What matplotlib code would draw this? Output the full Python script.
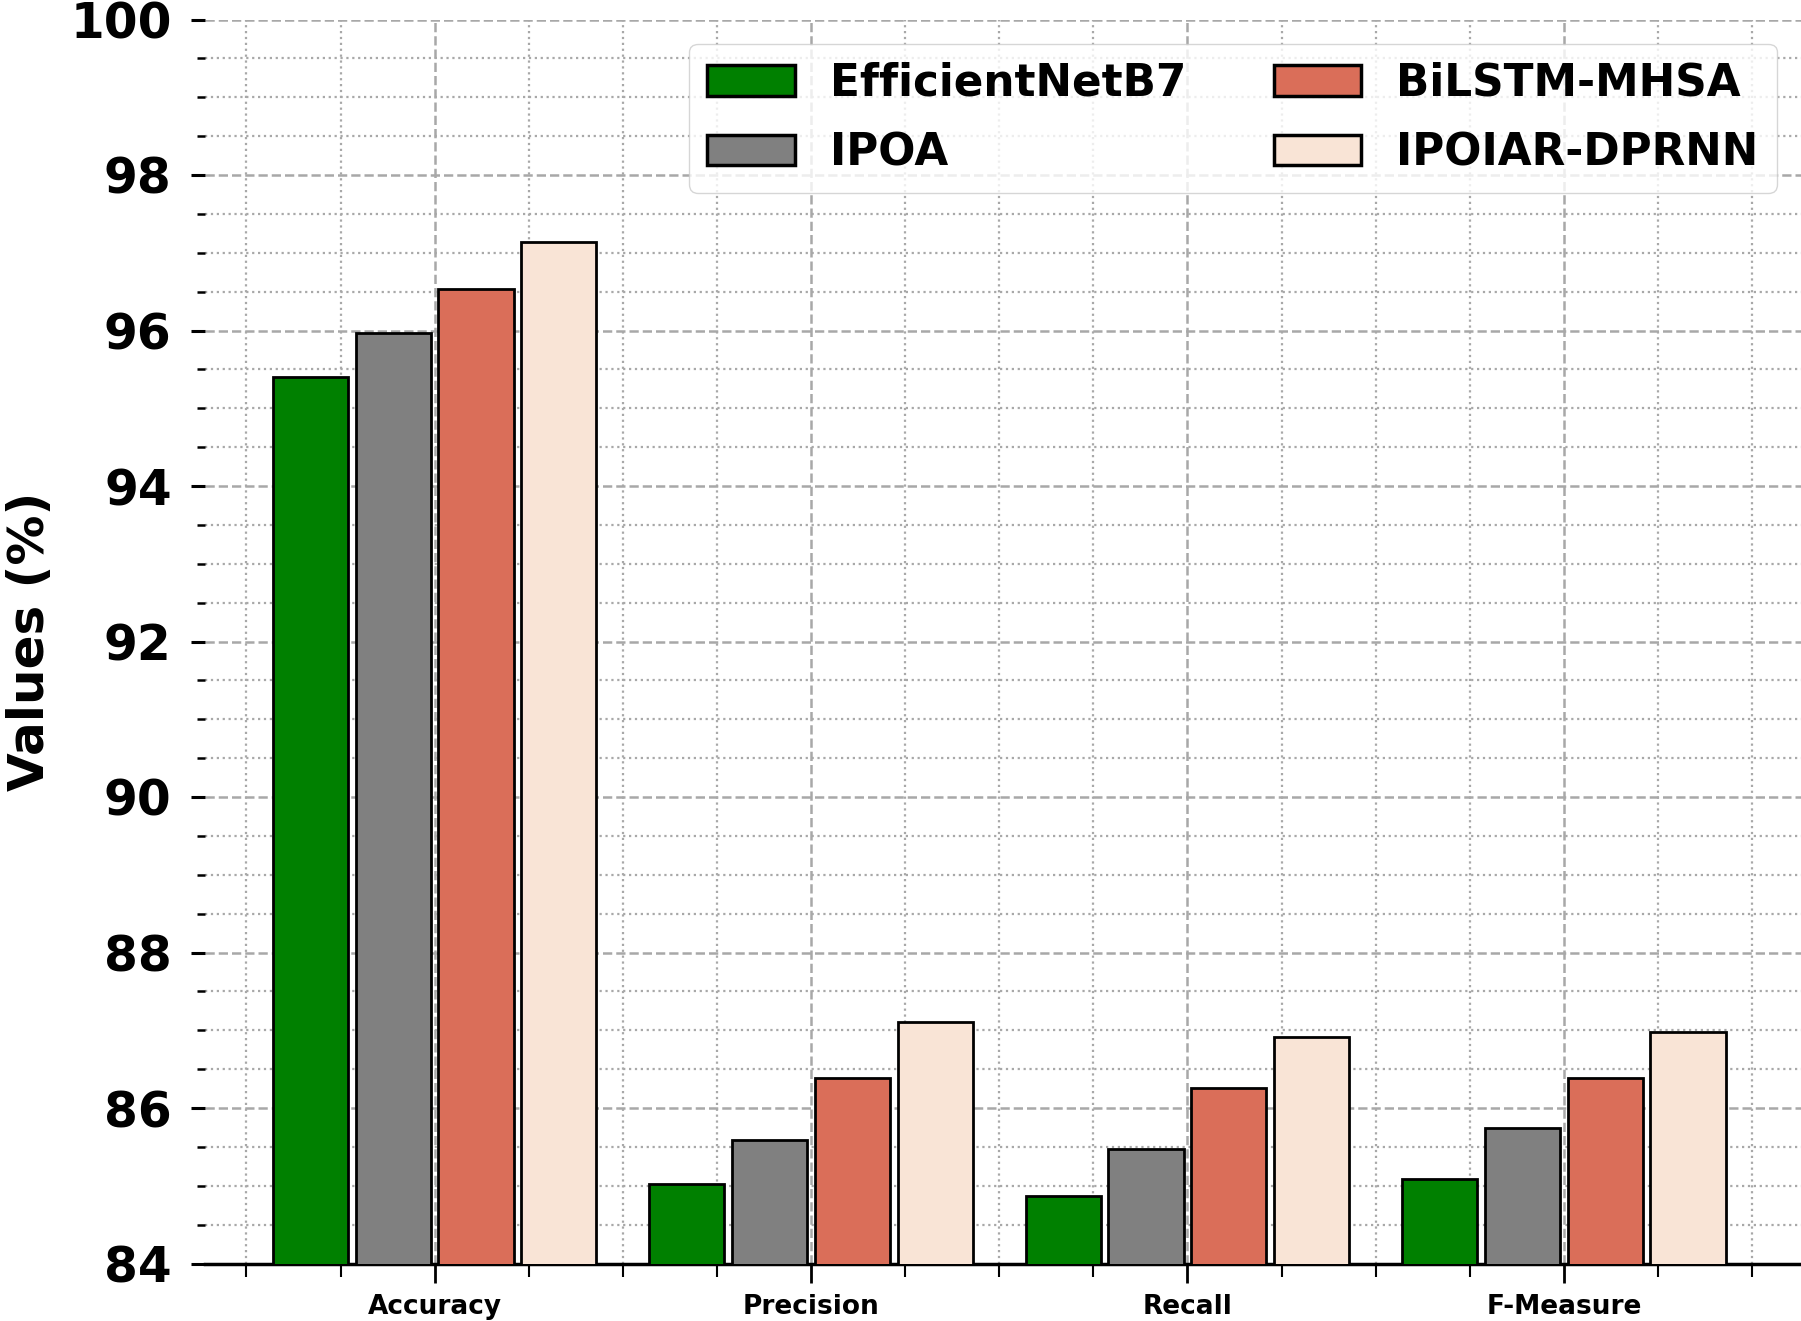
import matplotlib
matplotlib.use("Agg")
import matplotlib.pyplot as plt
from matplotlib.ticker import MultipleLocator, FixedLocator
import numpy as np

categories = ["Accuracy", "Precision", "Recall", "F-Measure"]
models = ["EfficientNetB7", "IPOA", "BiLSTM-MHSA", "IPOIAR-DPRNN"]
efficientnetb7 = [95.40, 85.02, 84.87, 85.09]
ipoa = [95.97, 85.59, 85.47, 85.74]
bilstm_mhsa = [96.53, 86.38, 86.26, 86.38]
ipoiar_dprnn = [97.14, 87.10, 86.91, 86.98]
series = [efficientnetb7, ipoa, bilstm_mhsa, ipoiar_dprnn]
colors = ["#008000", "#808080", "#DA6E59", "#F9E4D6"]
yticks = [84, 86, 88, 90, 92, 94, 96, 98, 100]

plt.rcParams['font.family'] = ['DejaVu Sans']
plt.rcParams['font.weight'] = 'bold'

fig = plt.figure(figsize=(18.01, 13.21), dpi=100)
ax = fig.add_axes([205/1801, 1 - 1263.5/1321, 1 - 205/1801, (1263.5 - 19.5)/1321])

x = np.arange(len(categories))
step = 0.22
width = 0.2
for i, (vals, name, col) in enumerate(zip(series, models, colors)):
    ax.bar(x + (i - 1.5) * step, vals, width, color=col, edgecolor='black',
           linewidth=2, label=name, zorder=3)

ax.set_ylim(84, 100)
ax.set_xlim(-0.61, 3.63)
ax.yaxis.set_major_locator(FixedLocator(yticks))
ax.yaxis.set_minor_locator(MultipleLocator(0.5))
ax.xaxis.set_major_locator(FixedLocator(x))
ax.xaxis.set_minor_locator(MultipleLocator(0.25))
ax.set_xticklabels(categories, fontsize=19, fontweight='bold')
ax.set_yticklabels([str(v) for v in yticks], fontsize=35, fontweight='bold')

ax.tick_params(axis='y', which='major', length=10, width=2.2, pad=14)
ax.tick_params(axis='y', which='minor', length=6, width=1.8)
ax.tick_params(axis='x', which='major', length=14, width=2, pad=8)
ax.tick_params(axis='x', which='minor', length=9, width=1.5)

for s in ['top', 'right', 'left']:
    ax.spines[s].set_visible(False)
ax.spines['bottom'].set_linewidth(2.5)

ax.grid(which='major', axis='both', linestyle='--', color='#a8a8a8', linewidth=1.8, zorder=0)
ax.grid(which='minor', axis='both', linestyle=':', color='#a8a8a8', linewidth=1.6, zorder=0)
ax.set_axisbelow(True)

ax.set_ylabel("Values (%)", fontsize=36, fontweight='bold', labelpad=12)

leg = ax.legend(ncol=2, loc='upper right', prop={'weight': 'bold', 'size': 31.5},
                handlelength=2.0, handleheight=0.7, columnspacing=2.0, handletextpad=0.8,
                labelspacing=0.6, borderpad=0.42, borderaxespad=0.55)
for h in leg.legend_handles:
    h.set_linewidth(2.5)

fig.savefig("out.png", dpi=100)
